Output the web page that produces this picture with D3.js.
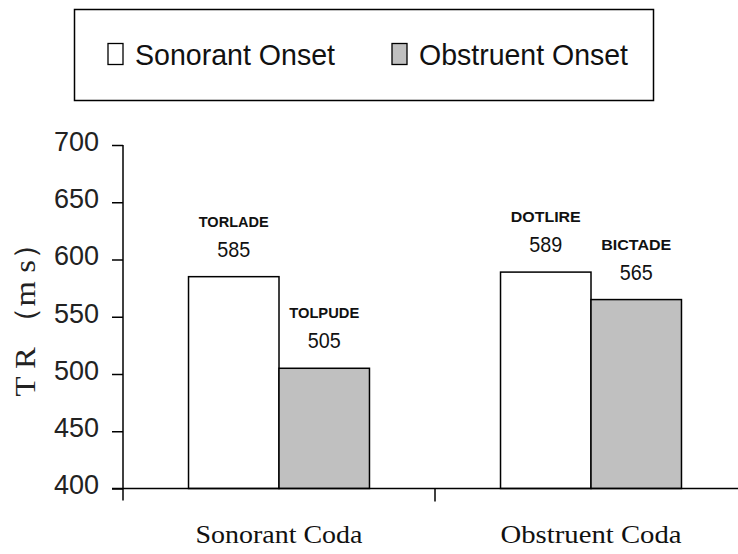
<!DOCTYPE html>
<html>
<head>
<meta charset="utf-8">
<script src="https://cdn.jsdelivr.net/npm/d3@7"></script>
<style>
  html, body { margin: 0; padding: 0; background: #fff; }
  svg { display: block; }
</style>
</head>
<body>
<svg id="chart" width="738" height="554"></svg>
<script>
// ---- data ----
const categories = ["Sonorant Coda", "Obstruent Coda"];
const series = ["Sonorant Onset", "Obstruent Onset"];
const sonorantOnset = [585, 589];
const obstruentOnset = [505, 565];
const itemNames = [["TORLADE", "TOLPUDE"], ["DOTLIRE", "BICTADE"]];
const yTicks = [400, 450, 500, 550, 600, 650, 700];
const yTitle = "T R （m s）";

const values = [sonorantOnset, obstruentOnset];
const colors = ["#ffffff", "#c0c0c0"];

const svg = d3.select("#chart");

// ---- scales ----
const yTop = 145, yBottom = 488.5;
const y = d3.scaleLinear().domain([400, 700]).range([yBottom, yTop]);
const xLeft = 123, bandW = 312;
const x0 = d3.scaleBand().domain(categories).range([xLeft, xLeft + bandW * categories.length]).padding(0);
const x1 = d3.scaleBand().domain(series).range([bandW * 0.21, bandW * 0.79]).padding(0);

const sans = "'Liberation Sans', Arial, sans-serif";
const serif = "'Liberation Serif', 'Times New Roman', serif";

// ---- bars ----
const data = [];
categories.forEach((c, ci) => {
  series.forEach((s, si) => {
    data.push({ cat: c, ser: s, si, v: values[si][ci], name: itemNames[ci][si] });
  });
});

const g = svg.append("g");
g.selectAll("rect.bar").data(data).join("rect")
  .attr("class", "bar")
  .attr("x", d => x0(d.cat) + x1(d.ser))
  .attr("y", d => y(d.v))
  .attr("width", x1.bandwidth())
  .attr("height", d => y(400) - y(d.v))
  .attr("fill", d => colors[d.si])
  .attr("stroke", "#000")
  .attr("stroke-width", 1.5);

// labels above bars
g.selectAll("text.name").data(data).join("text")
  .attr("class", "name")
  .attr("x", d => x0(d.cat) + x1(d.ser) + x1.bandwidth() / 2)
  .attr("y", d => y(d.v) - 50)
  .attr("text-anchor", "middle")
  .attr("font-family", sans)
  .attr("font-weight", "bold")
  .attr("font-size", 15)
  .attr("textLength", 70)
  .attr("lengthAdjust", "spacingAndGlyphs")
  .attr("fill", "#111")
  .text(d => d.name);

g.selectAll("text.val").data(data).join("text")
  .attr("class", "val")
  .attr("x", d => x0(d.cat) + x1(d.ser) + x1.bandwidth() / 2)
  .attr("y", d => y(d.v) - 20)
  .attr("text-anchor", "middle")
  .attr("font-family", sans)
  .attr("font-size", 22)
  .attr("textLength", 33)
  .attr("lengthAdjust", "spacingAndGlyphs")
  .attr("fill", "#111")
  .text(d => d.v);

// ---- y axis ----
const yAxis = d3.axisLeft(y).tickValues(yTicks).tickSize(11).tickPadding(13).tickSizeOuter(0);
const ya = svg.append("g").attr("transform", `translate(${xLeft},0)`).call(yAxis);
ya.select(".domain").remove();
ya.selectAll(".tick line").attr("stroke", "#000").attr("stroke-width", 1.5);
ya.selectAll(".tick text")
  .attr("font-family", sans)
  .attr("font-size", 27)
  .attr("dy", "0.2em")
  .attr("fill", "#222");
svg.append("line")
  .attr("x1", xLeft).attr("x2", xLeft)
  .attr("y1", y(700)).attr("y2", y(400) + 12)
  .attr("stroke", "#000").attr("stroke-width", 1.5);

// ---- x axis ----
svg.append("line")
  .attr("x1", xLeft - 11).attr("x2", xLeft + bandW * categories.length)
  .attr("y1", y(400)).attr("y2", y(400))
  .attr("stroke", "#000").attr("stroke-width", 1.5);
svg.selectAll("line.xtick").data(categories.slice(1)).join("line")
  .attr("class", "xtick")
  .attr("x1", d => x0(d)).attr("x2", d => x0(d))
  .attr("y1", y(400)).attr("y2", y(400) + 13)
  .attr("stroke", "#000").attr("stroke-width", 1.5);
svg.selectAll("text.cat").data(categories).join("text")
  .attr("class", "cat")
  .attr("x", d => x0(d) + x0.bandwidth() / 2)
  .attr("y", 543)
  .attr("text-anchor", "middle")
  .attr("font-family", serif)
  .attr("font-size", 26)
  .attr("textLength", (d, i) => i === 0 ? 167 : 181)
  .attr("lengthAdjust", "spacingAndGlyphs")
  .attr("fill", "#111")
  .text(d => d);

// ---- y title ----
svg.append("text")
  .attr("transform", "translate(35,312) rotate(-90)")
  .attr("text-anchor", "middle")
  .attr("font-family", serif)
  .attr("font-size", 30)
  .attr("textLength", 169)
  .attr("lengthAdjust", "spacingAndGlyphs")
  .attr("fill", "#222")
  .text(yTitle);

// ---- legend ----
const lg = svg.append("g");
lg.append("rect")
  .attr("x", 74.5).attr("y", 9.5).attr("width", 579).attr("height", 91)
  .attr("fill", "#fff").attr("stroke", "#000").attr("stroke-width", 1.5);
const legendX = [108, 392];
const legendTextW = [200, 209];
series.forEach((s, i) => {
  lg.append("rect")
    .attr("x", legendX[i]).attr("y", 43.5)
    .attr("width", 15).attr("height", 21)
    .attr("fill", colors[i]).attr("stroke", "#000").attr("stroke-width", 1.3);
  lg.append("text")
    .attr("x", legendX[i] + 27).attr("y", 65)
    .attr("font-family", sans)
    .attr("font-size", 30)
    .attr("textLength", legendTextW[i])
    .attr("lengthAdjust", "spacingAndGlyphs")
    .attr("fill", "#111")
    .text(s);
});
</script>
</body>
</html>
